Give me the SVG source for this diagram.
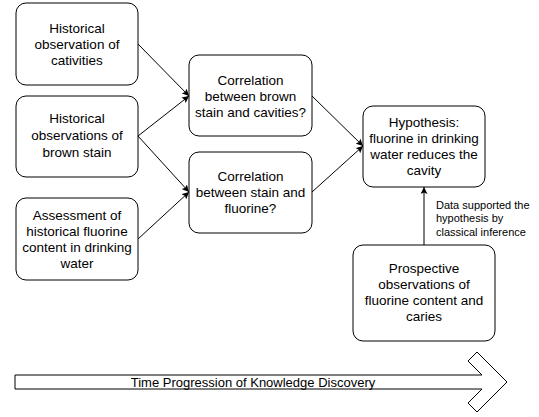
<svg xmlns="http://www.w3.org/2000/svg" width="539" height="417" viewBox="0 0 539 417">
<style>
.box{fill:#fff;stroke:#000;stroke-width:1}
.t{font-family:"Liberation Sans",Arial,sans-serif;font-size:13.5px;fill:#000;text-anchor:middle}
.s{font-family:"Liberation Sans",Arial,sans-serif;font-size:11px;fill:#000}
.e{fill:none;stroke:#000;stroke-width:1;marker-end:url(#ah)}
</style>
<defs>
<marker id="ah" viewBox="0 0 10 10" refX="10" refY="5" markerWidth="7" markerHeight="7" orient="auto" markerUnits="userSpaceOnUse">
<path d="M0,0 L10,5 L0,10 L2,5 z" fill="#000"/>
</marker>
</defs>
<rect width="539" height="417" fill="#fff"/>
<g id="connectors">
<line class="e" x1="138" y1="44" x2="189" y2="96"/>
<line class="e" x1="138" y1="136" x2="189" y2="96"/>
<line class="e" x1="138" y1="136" x2="189" y2="192"/>
<line class="e" x1="138" y1="239" x2="189" y2="192"/>
<line class="e" x1="312" y1="96" x2="363" y2="146"/>
<line class="e" x1="312" y1="192" x2="363" y2="146"/>
<line class="e" x1="424" y1="245" x2="424" y2="187"/>
<text class="s" x="436" y="209">Data supported the</text>
<text class="s" x="436" y="222">hypothesis by</text>
<text class="s" x="436" y="236">classical inference</text>
</g>
<g id="n1">
<rect class="box" x="16" y="3" width="122" height="82" rx="10"/>
<text class="t" x="77" y="33">Historical</text>
<text class="t" x="77" y="49">observation of</text>
<text class="t" x="77" y="65">cativities</text>
</g>
<g id="n2">
<rect class="box" x="16" y="96" width="122" height="81" rx="10"/>
<text class="t" x="77" y="123">Historical</text>
<text class="t" x="77" y="140">observations of</text>
<text class="t" x="77" y="157">brown stain</text>
</g>
<g id="n3">
<rect class="box" x="16" y="198" width="122" height="82" rx="10"/>
<text class="t" x="77" y="220">Assessment of</text>
<text class="t" x="77" y="236">historical fluorine</text>
<text class="t" x="77" y="252">content in drinking</text>
<text class="t" x="77" y="268">water</text>
</g>
<g id="n4">
<rect class="box" x="189" y="55" width="123" height="81" rx="10"/>
<text class="t" x="250.5" y="85">Correlation</text>
<text class="t" x="250.5" y="101">between brown</text>
<text class="t" x="250.5" y="117">stain and cavities?</text>
</g>
<g id="n5">
<rect class="box" x="189" y="152" width="123" height="81" rx="10"/>
<text class="t" x="250.5" y="181">Correlation</text>
<text class="t" x="250.5" y="197">between stain and</text>
<text class="t" x="250.5" y="213">fluorine?</text>
</g>
<g id="n6">
<rect class="box" x="363" y="106" width="122" height="81" rx="10"/>
<text class="t" x="424" y="127">Hypothesis:</text>
<text class="t" x="424" y="143">fluorine in drinking</text>
<text class="t" x="424" y="159">water reduces the</text>
<text class="t" x="424" y="175">cavity</text>
</g>
<g id="n7">
<rect class="box" x="353" y="245" width="142" height="96" rx="10"/>
<text class="t" x="424" y="273">Prospective</text>
<text class="t" x="424" y="289">observations of</text>
<text class="t" x="424" y="305">fluorine content and</text>
<text class="t" x="424" y="321">caries</text>
</g>
<g id="timeline">
<path d="M15,375 L482,375 L468,361 L477,352 L507,382 L477,412 L468,403 L482,389 L15,389 Z" fill="#fff" stroke="#000" stroke-width="1"/>
<text class="t" x="253" y="387" style="font-size:13px">Time Progression of Knowledge Discovery</text>
</g>
</svg>
